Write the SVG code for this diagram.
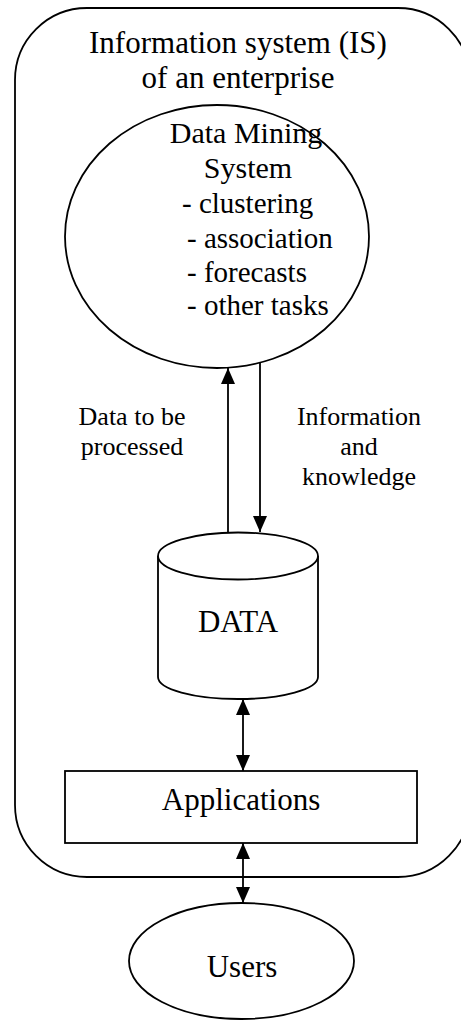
<svg xmlns="http://www.w3.org/2000/svg" width="461" height="1021" viewBox="0 0 461 1021">
<style>
.s{fill:none;stroke:#000;stroke-width:1.8}
.w{fill:#fff;stroke:#000;stroke-width:1.8}
.c{stroke:#000;stroke-width:1.8;fill:none}
text{font-family:"Liberation Serif","Times New Roman",serif;fill:#000}
.t31{font-size:31px}
.t30{font-size:30px}
.t29{font-size:29px}
.t26{font-size:26px}
</style>
<defs>
<marker id="ah" viewBox="0 0 16 14" refX="16" refY="7" markerWidth="16" markerHeight="14" markerUnits="userSpaceOnUse" orient="auto-start-reverse">
<path d="M0,0 L16,7 L0,14 Z" fill="#000"/>
</marker>
</defs>
<g id="is">
<rect class="s" x="15" y="8" width="455" height="869" rx="72" ry="72"/>
<text class="t31" x="238" y="53" text-anchor="middle">Information system (IS)</text>
<text class="t31" x="238" y="88" text-anchor="middle">of an enterprise</text>
</g>
<g id="dms">
<ellipse class="w" cx="217" cy="236.5" rx="152" ry="131.5"/>
<text class="t30" x="246" y="143" text-anchor="middle">Data Mining</text>
<text class="t30" x="248" y="178" text-anchor="middle">System</text>
<text class="t29" x="182" y="213">- clustering</text>
<text class="t29" x="187" y="248">- association</text>
<text class="t29" x="187" y="282">- forecasts</text>
<text class="t29" x="187" y="315">- other tasks</text>
</g>
<g id="data">
<path class="w" d="M158,556 L158,677 A80,22 0 0 0 318,677 L318,556"/>
<ellipse class="w" cx="238" cy="556" rx="80" ry="23.5"/>
<text class="t31" x="238" y="632" text-anchor="middle">DATA</text>
</g>
<g id="apps">
<rect class="w" x="65" y="771" width="352" height="72"/>
<text class="t31" x="241" y="810" text-anchor="middle">Applications</text>
</g>
<g id="users">
<ellipse class="w" cx="241.5" cy="961" rx="112.5" ry="58"/>
<text class="t31" x="242" y="977" text-anchor="middle">Users</text>
</g>
<g id="labels">
<text class="t26" x="132" y="425" text-anchor="middle">Data to be</text>
<text class="t26" x="132" y="455" text-anchor="middle">processed</text>
<text class="t26" x="359" y="425" text-anchor="middle">Information</text>
<text class="t26" x="359" y="455" text-anchor="middle">and</text>
<text class="t26" x="359" y="485" text-anchor="middle">knowledge</text>
</g>
<g id="connectors">
<line class="c" x1="228" y1="532" x2="228" y2="368" marker-end="url(#ah)"/>
<line class="c" x1="260" y1="363" x2="260" y2="532" marker-end="url(#ah)"/>
<line class="c" x1="243" y1="699" x2="243" y2="771" marker-start="url(#ah)" marker-end="url(#ah)"/>
<line class="c" x1="243" y1="843" x2="243" y2="903" marker-start="url(#ah)" marker-end="url(#ah)"/>
</g>
</svg>
